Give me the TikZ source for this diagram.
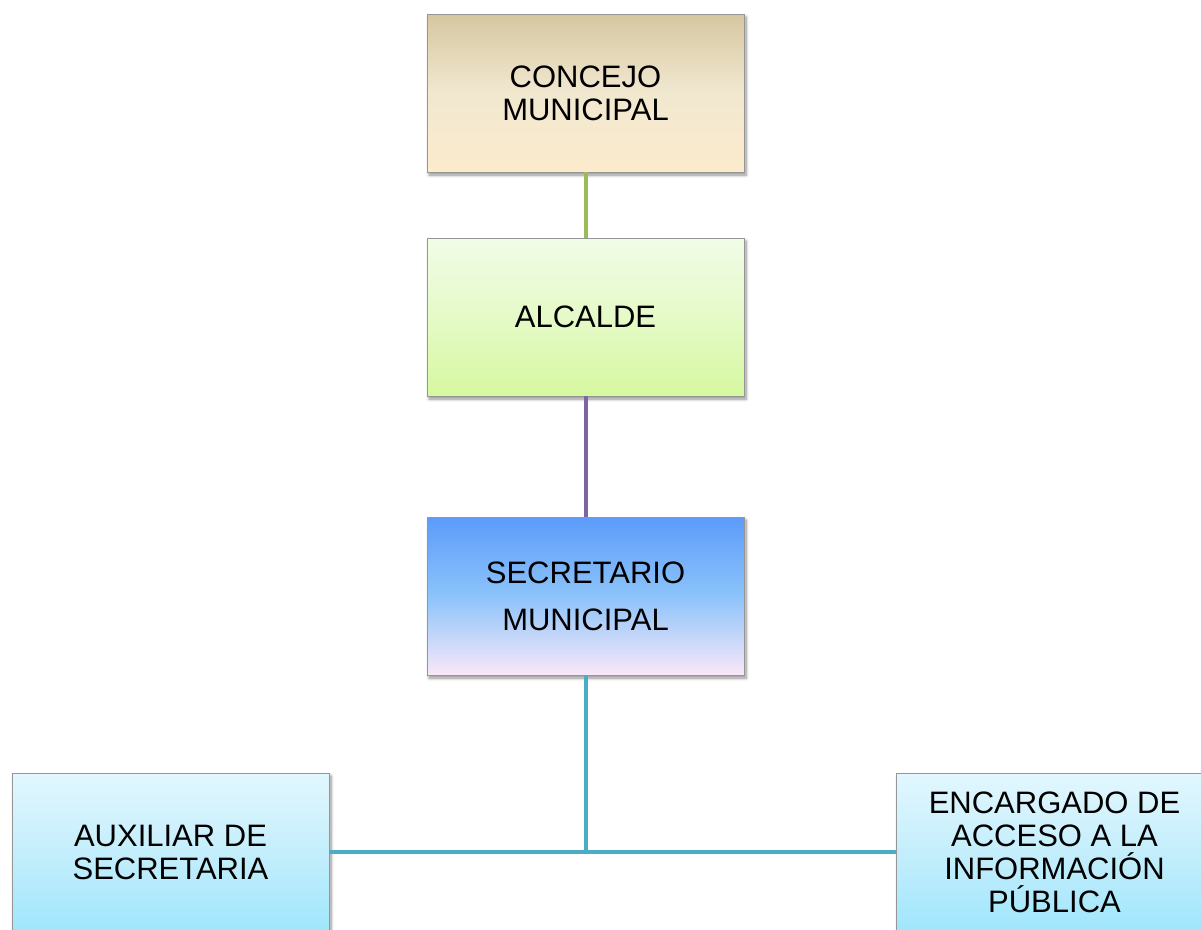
\documentclass[tikz,border=0pt]{standalone}
\usepackage{fontspec}
\setmainfont{Liberation Sans}
\usetikzlibrary{shadows.blur}
\definecolor{tanTop}{RGB}{214,199,160}
\definecolor{tanMid}{RGB}{241,232,208}
\definecolor{tanBot}{RGB}{252,235,204}
\definecolor{grnTop}{RGB}{241,252,231}
\definecolor{grnMid}{RGB}{229,250,200}
\definecolor{grnBot}{RGB}{214,248,160}
\definecolor{bluTop}{RGB}{92,155,250}
\definecolor{bluMid}{RGB}{140,195,250}
\definecolor{bluBot}{RGB}{250,232,248}
\definecolor{cyaTop}{RGB}{226,247,254}
\definecolor{cyaMid}{RGB}{196,238,252}
\definecolor{cyaBot}{RGB}{160,230,252}
\definecolor{boxEdge}{RGB}{150,150,150}
\definecolor{lnGreen}{RGB}{155,187,89}
\definecolor{lnPurple}{RGB}{128,100,162}
\definecolor{lnTeal}{RGB}{75,172,198}
\tikzset{
  orgbox/.style={draw=boxEdge, line width=0.8pt, anchor=north west,
    minimum width=317pt, minimum height=158pt, inner sep=0pt, outer sep=0pt,
    align=center, font=\fontsize{31}{33}\selectfont,
    blur shadow={shadow xshift=2pt, shadow yshift=-3pt, shadow blur steps=6,
      shadow blur radius=3pt, shadow opacity=45}},
  link/.style={line width=4pt}
}
\begin{document}
\begin{tikzpicture}[x=1pt,y=1pt]
  \useasboundingbox (0,0) rectangle (1201,-929);
  \begin{scope}
  \clip (0,0) rectangle (1201,-929);
  \node[orgbox, top color=tanTop, bottom color=tanBot, middle color=tanMid]
    (concejo) at (427,-14) {CONCEJO\\MUNICIPAL};
  \node[orgbox, top color=grnTop, bottom color=grnBot, middle color=grnMid]
    (alcalde) at (427,-238) {ALCALDE};
  \node[orgbox, top color=bluTop, bottom color=bluBot, middle color=bluMid,
    font=\fontsize{31}{47}\selectfont]
    (secretario) at (427,-517) {SECRETARIO\\MUNICIPAL};
  \node[orgbox, top color=cyaTop, bottom color=cyaBot, middle color=cyaMid]
    (auxiliar) at (12,-773) {AUXILIAR DE\\SECRETARIA};
  \node[orgbox, top color=cyaTop, bottom color=cyaBot, middle color=cyaMid]
    (encargado) at (896,-773) {ENCARGADO DE\\ACCESO A LA\\INFORMACIÓN\\PÚBLICA};

  \draw[link, lnGreen] (concejo.south) -- (alcalde.north);
  \draw[link, lnPurple] (alcalde.south) -- (secretario.north);
  \draw[link, lnTeal] (secretario.south) |- (auxiliar.east);
  \draw[link, lnTeal] (secretario.south) |- (encargado.west);
  \end{scope}
\end{tikzpicture}
\end{document}
